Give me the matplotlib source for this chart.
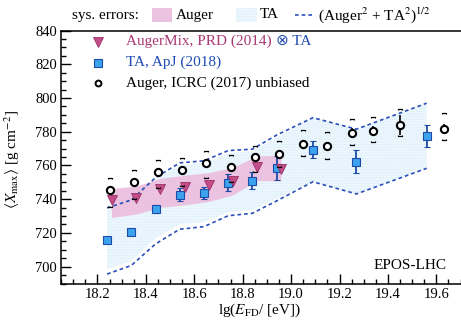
import numpy as np
import matplotlib
matplotlib.use("Agg")
import matplotlib.pyplot as plt
from matplotlib.path import Path
from matplotlib.patches import Rectangle
from matplotlib.lines import Line2D
from matplotlib.ticker import MultipleLocator

plt.rcParams['font.family'] = ['Liberation Serif', 'DejaVu Serif', 'DejaVu Sans']
plt.rcParams['mathtext.fontset'] = 'stix'
plt.rcParams['hatch.linewidth'] = 0.4

# TA, ApJ (2018)
ta_lge = [18.24, 18.34, 18.44, 18.54, 18.64, 18.74, 18.84, 18.94, 19.09, 19.27, 19.56]
ta_xmax = [716.0, 720.8, 734.3, 742.7, 743.8, 749.8, 751.0, 758.4, 769.3, 762.3, 777.6]
ta_stat = [1.5, 1.8, 2.5, 4.0, 3.7, 5.2, 4.9, 7.0, 5.0, 6.6, 6.5]
ta_sys = [17.5, 17.5, 17.5, 17.5, 17.5, 17.5, 17.5, 18.0, 19.0, 19.2, 19.3]

# AugerMix, PRD (2014) folded with the TA detector response
mix_lge = [18.26, 18.36, 18.46, 18.56, 18.66, 18.76, 18.86, 18.96]
mix_xmax = [739.3, 740.7, 746.1, 747.0, 748.2, 751.0, 758.9, 758.0]
auger_sys_up = [6.8, 6.7, 5.9, 6.9, 7.2, 7.4, 6.4, 7.7]
auger_sys_lo = [10.5, 9.9, 11.3, 10.7, 9.9, 8.9, 8.3, 7.4]

# Auger, ICRC (2017) unbiased
icrc_lge = [18.25, 18.35, 18.45, 18.55, 18.65, 18.75, 18.85, 18.95,
            19.05, 19.15, 19.25, 19.34, 19.45, 19.63]
icrc_xmax = [745.3, 750.0, 756.3, 757.5, 761.5, 759.3, 764.8, 766.8,
             773.0, 771.3, 779.2, 780.2, 784.1, 781.8]
icrc_stat = [1.0, 1.0, 1.0, 1.0, 1.2, 1.3, 1.5, 1.8, 2.2, 2.3, 3.2, 3.0, 5.9, 3.0]
icrc_sys_up = [7.0, 7.0, 7.0, 7.0, 7.0, 7.0, 7.0, 7.5, 7.8, 8.4, 8.5, 8.8, 9.3, 9.0]
icrc_sys_lo = [10.0, 10.0, 9.5, 9.5, 9.0, 9.0, 8.5, 8.0, 7.5, 7.3, 6.8, 6.5, 6.4, 6.5]

x_ticks = [18.2, 18.4, 18.6, 18.8, 19.0, 19.2, 19.4, 19.6]
y_ticks = [700, 720, 740, 760, 780, 800, 820, 840]

pink_band = '#ebc3e0'
blue_band = '#ecf6fd'
blue_hatch = '#d3e9f8'
dash_blue = '#2a4fb8'
tri_face = '#c44d88'
tri_edge = '#98306a'
sq_face = '#3ba2ee'
sq_edge = '#1d4ba6'

W, H = 461, 320
fig = plt.figure(figsize=(W / 100, H / 100), dpi=100)
ax_l, ax_r, ax_t, ax_b = 61.1, 465.4, 30.5, 283.5
ax = fig.add_axes([ax_l / W, 1 - ax_b / H, (ax_r - ax_l) / W, (ax_b - ax_t) / H])

ta_x = np.array(ta_lge)
ta_y = np.array(ta_xmax)
ta_s = np.array(ta_sys)

# TA systematic band
ax.fill_between(ta_x, ta_y - ta_s, ta_y + ta_s, facecolor=blue_band,
                edgecolor=blue_hatch, hatch='......', linewidth=0, zorder=1)

# Auger systematic band around the AugerMix points
mx = np.array(mix_lge)
my = np.array(mix_xmax)
ax.fill_between(mx, my - np.array(auger_sys_lo), my + np.array(auger_sys_up),
                facecolor=pink_band, edgecolor='none', linewidth=0, zorder=2)

# combined systematics (Auger^2 + TA^2)^(1/2) around the TA points
a_up = np.zeros(len(ta_x))
a_lo = np.zeros(len(ta_x))
a_up[:len(mix_lge)] = auger_sys_up
a_lo[:len(mix_lge)] = auger_sys_lo
comb_up = np.sqrt(ta_s ** 2 + a_up ** 2)
comb_lo = np.sqrt(ta_s ** 2 + a_lo ** 2)
dash = (0, (2.2, 1.8))
ax.plot(ta_x, ta_y + comb_up, color=dash_blue, lw=1.2, ls=dash, zorder=3)
ax.plot(ta_x, ta_y - comb_lo, color=dash_blue, lw=1.2, ls=dash, zorder=3)

# TA points
ax.errorbar(ta_x, ta_y, yerr=ta_stat, fmt='s', ms=6, mfc=sq_face, mec=sq_edge,
            mew=0.8, ecolor=sq_edge, elinewidth=1.3, capsize=2.2, capthick=1.1,
            zorder=5)

# AugerMix points
ax.plot(mx, my, 'v', ms=7.5, mfc=tri_face, mec=tri_edge, mew=0.6, zorder=6)

# Auger ICRC points with statistical errors
ix = np.array(icrc_lge)
iy = np.array(icrc_xmax)
ax.errorbar(ix, iy, yerr=icrc_stat, fmt='o', ms=5.2, mfc='white', mec='black',
            mew=1.5, ecolor='black', elinewidth=1.2, capsize=0, zorder=7)

# systematic brackets of the Auger ICRC points
top_br = Path([(-1, -0.6), (-1, 0), (1, 0), (1, -0.6)],
              [Path.MOVETO, Path.LINETO, Path.LINETO, Path.LINETO])
bot_br = Path([(-1, 0.6), (-1, 0), (1, 0), (1, 0.6)],
              [Path.MOVETO, Path.LINETO, Path.LINETO, Path.LINETO])
ax.plot(ix, iy + np.array(icrc_sys_up), ls='none', marker=top_br, ms=3.2,
        mfc='none', mec='black', mew=0.9, zorder=8)
ax.plot(ix, iy - np.array(icrc_sys_lo), ls='none', marker=bot_br, ms=3.2,
        mfc='none', mec='black', mew=0.9, zorder=8)

ax.set_xlim(18.05, 19.72)
ax.set_ylim(690, 840)
ax.set_xticks(x_ticks)
ax.set_xticklabels([f'{v:.1f}' for v in x_ticks])
ax.set_yticks(y_ticks)
ax.xaxis.set_minor_locator(MultipleLocator(0.05))
ax.yaxis.set_minor_locator(MultipleLocator(5))
ax.tick_params(which='both', direction='in', top=False, right=False,
               labelsize=10.5, width=1.0)
ax.tick_params(which='major', length=7, pad=3)
ax.tick_params(which='minor', length=3.5)
for sp in ax.spines.values():
    sp.set_linewidth(1.1)

ax.set_xlabel(r'lg($E_{\mathrm{FD}}$/ [eV])', fontsize=11)
ax.xaxis.set_label_coords(0.492, -0.072)
ax.set_ylabel(r'$\langle X_{\mathrm{max}}\rangle$ [g cm$^{-2}$]', fontsize=11)
ax.yaxis.set_label_coords(-0.097, 0.49)

ax.text(0.9545, 0.073, 'EPOS-LHC', transform=ax.transAxes, ha='right',
        va='center', fontsize=11)

# legend entries inside the axes
def ax_xy(px, py):
    return (px - ax_l) / (ax_r - ax_l), (ax_b - py) / (ax_b - ax_t)

mk_x, _ = ax_xy(98.3, 0)
tx_x, _ = ax_xy(126, 0)
rows = [ax_xy(0, 41.7)[1], ax_xy(0, 62.5)[1], ax_xy(0, 82.8)[1]]
ax.plot([mk_x], [rows[0]], 'v', ms=7.5, mfc=tri_face, mec=tri_edge, mew=0.6,
        transform=ax.transAxes, zorder=9, clip_on=False)
ax.plot([mk_x], [rows[1]], 's', ms=6, mfc=sq_face, mec=sq_edge, mew=0.8,
        transform=ax.transAxes, zorder=9, clip_on=False)
ax.plot([mk_x], [rows[2]], 'o', ms=4.2, mfc='white', mec='black', mew=1.4,
        transform=ax.transAxes, zorder=9, clip_on=False)
t1 = ax.text(tx_x, rows[0], 'AugerMix, PRD (2014)', transform=ax.transAxes,
             va='center', ha='left', fontsize=11, color='#a83a74')
ax.text(tx_x, rows[1], 'TA, ApJ (2018)', transform=ax.transAxes,
        va='center', ha='left', fontsize=11, color='#1f4cb4')
ax.text(tx_x, rows[2], 'Auger, ICRC (2017) unbiased', transform=ax.transAxes,
        va='center', ha='left', fontsize=11, color='black')
fig.canvas.draw()
bb = t1.get_window_extent(fig.canvas.get_renderer())
x2 = ax.transAxes.inverted().transform((bb.x1 + 4, 0))[0]
ax.text(x2, rows[0], '\u2297 TA', transform=ax.transAxes, va='center',
        ha='left', fontsize=11, color='#1f4cb4',
        family=['Liberation Serif', 'DejaVu Sans'])

# systematic-error key above the axes
def fx(px):
    return px / W

def fy(py):
    return 1 - py / H

fig.text(fx(72), fy(15), 'sys. errors:', va='center', ha='left', fontsize=11)
fig.patches.append(Rectangle((fx(152), fy(22)), 20 / W, 14.5 / H,
                             transform=fig.transFigure, facecolor=pink_band,
                             edgecolor='none'))
fig.text(fx(176), fy(15), 'Auger', va='center', ha='left', fontsize=11)
fig.patches.append(Rectangle((fx(236), fy(22)), 21 / W, 14.5 / H,
                             transform=fig.transFigure, facecolor=blue_band,
                             edgecolor=blue_hatch, hatch='......', linewidth=0))
fig.text(fx(260), fy(15), 'TA', va='center', ha='left', fontsize=11)
fig.lines.append(Line2D([fx(295), fx(313)], [fy(15), fy(15)],
                        transform=fig.transFigure, color=dash_blue, lw=1.2,
                        ls=dash))
fig.text(fx(318), fy(15), r'(Auger$^2$ + TA$^2$)$^{1/2}$', va='center',
         ha='left', fontsize=11)

fig.savefig('out.png', dpi=100)
